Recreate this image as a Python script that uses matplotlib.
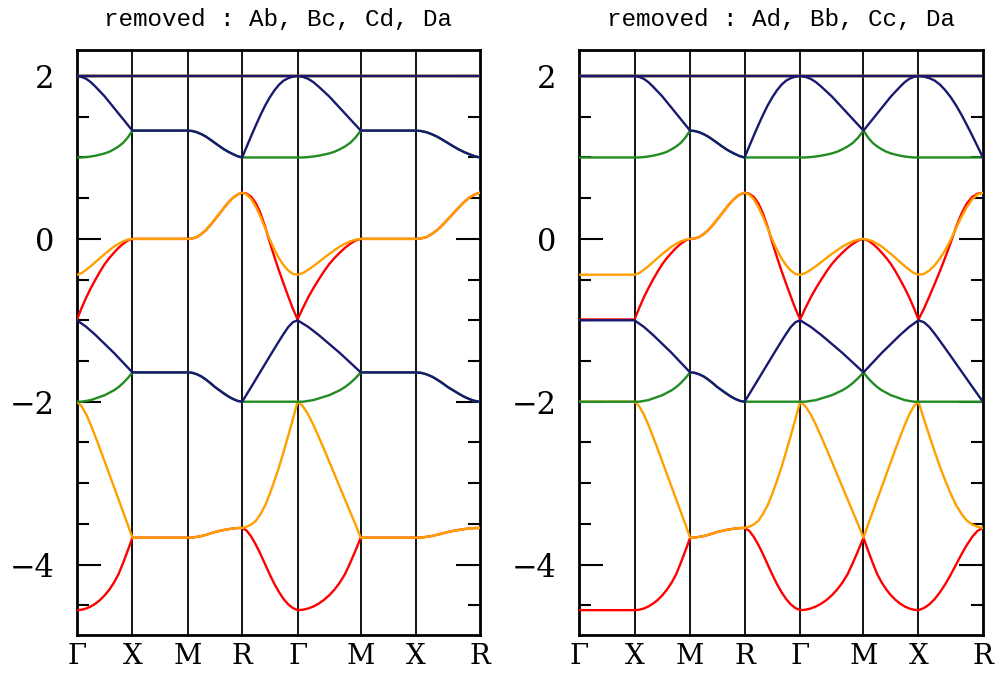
import numpy as np
import matplotlib.pyplot as plt

# k-path nodes (positions along the path) and their labels
nodes = [0, 1, 2.0, 2.98, 3.98, 5.12, 6.11, 7.27]
klabels = ['Γ', 'X', 'M', 'R', 'Γ', 'M', 'X', 'R']
titles = ['removed : Ab, Bc, Cd, Da', 'removed : Ad, Bb, Cc, Da']

# band colours, band i uses colours[i % 4]
colours = ['#ff0000', '#ffa000', '#228b22', '#191970']

# energies, 13 samples per segment, bands 1..8
# Gamma -> X type segment
gx = [
    [-4.56, -4.555, -4.54, -4.515, -4.48, -4.435, -4.378, -4.308, -4.223, -4.118, -3.978, -3.828, -3.67],
    [-2.00, -2.055, -2.155, -2.285, -2.43, -2.58, -2.735, -2.89, -3.045, -3.20, -3.355, -3.51, -3.67],
    [-2.00, -2.00, -1.99, -1.98, -1.96, -1.94, -1.92, -1.89, -1.86, -1.82, -1.77, -1.71, -1.64],
    [-1.00, -1.04, -1.08, -1.13, -1.18, -1.235, -1.29, -1.345, -1.40, -1.46, -1.52, -1.58, -1.64],
    [-0.99, -0.85, -0.72, -0.605, -0.50, -0.40, -0.31, -0.235, -0.17, -0.11, -0.06, -0.02, 0.00],
    [-0.44, -0.42, -0.38, -0.335, -0.285, -0.235, -0.185, -0.14, -0.095, -0.06, -0.03, -0.01, 0.00],
    [1.00, 1.00, 1.005, 1.012, 1.022, 1.035, 1.05, 1.07, 1.10, 1.135, 1.18, 1.245, 1.33],
    [2.00, 1.99, 1.966, 1.925, 1.87, 1.81, 1.75, 1.68, 1.61, 1.54, 1.47, 1.40, 1.33],
]
# M -> R type segment
mr = [
    [-3.67, -3.668, -3.66, -3.65, -3.635, -3.618, -3.60, -3.587, -3.575, -3.565, -3.557, -3.552, -3.55],
    [-3.67, -3.668, -3.66, -3.65, -3.635, -3.618, -3.60, -3.587, -3.575, -3.565, -3.557, -3.552, -3.55],
    [-1.64, -1.645, -1.663, -1.69, -1.728, -1.772, -1.82, -1.86, -1.90, -1.937, -1.967, -1.99, -2.00],
    [-1.64, -1.645, -1.663, -1.69, -1.728, -1.772, -1.82, -1.86, -1.90, -1.937, -1.967, -1.99, -2.00],
    [0.00, 0.005, 0.022, 0.06, 0.108, 0.17, 0.24, 0.31, 0.383, 0.45, 0.506, 0.545, 0.567],
    [0.00, 0.005, 0.022, 0.06, 0.108, 0.17, 0.24, 0.31, 0.383, 0.45, 0.506, 0.545, 0.567],
    [1.33, 1.325, 1.31, 1.286, 1.256, 1.218, 1.178, 1.138, 1.10, 1.068, 1.04, 1.015, 1.00],
    [1.33, 1.325, 1.31, 1.286, 1.256, 1.218, 1.178, 1.138, 1.10, 1.068, 1.04, 1.015, 1.00],
]
# R -> Gamma type segment
rg = [
    [-3.55, -3.585, -3.66, -3.76, -3.875, -4.00, -4.125, -4.24, -4.34, -4.425, -4.49, -4.535, -4.56],
    [-3.55, -3.535, -3.508, -3.46, -3.377, -3.27, -3.13, -2.97, -2.80, -2.61, -2.413, -2.21, -2.00],
    [-2.00, -2.00, -2.00, -2.00, -2.00, -2.00, -2.00, -2.00, -2.00, -2.00, -2.00, -2.00, -2.00],
    [-2.00, -1.908, -1.815, -1.721, -1.627, -1.533, -1.439, -1.346, -1.254, -1.164, -1.081, -1.023, -1.00],
    [0.567, 0.555, 0.515, 0.435, 0.31, 0.145, -0.045, -0.225, -0.395, -0.555, -0.71, -0.86, -0.99],
    [0.567, 0.545, 0.486, 0.39, 0.27, 0.13, -0.01, -0.135, -0.24, -0.325, -0.39, -0.43, -0.44],
    [1.00, 1.00, 1.00, 1.00, 1.00, 1.00, 1.00, 1.00, 1.00, 1.00, 1.00, 1.00, 1.00],
    [1.00, 1.135, 1.27, 1.40, 1.525, 1.64, 1.74, 1.825, 1.895, 1.945, 1.975, 1.993, 2.00],
]
# four flat bands on top
flat_top = [2.0, 2.0, 2.0, 2.0]


def left_path(b):
    xv = [gx[b][-1]] * len(gx[b])
    return [gx[b], xv, mr[b], rg[b], gx[b], xv, mr[b]]


def right_path(b):
    gv = [gx[b][0]] * len(gx[b])
    return [gv, gx[b], mr[b], rg[b], gx[b], gx[b][::-1], rg[b][::-1]]


def draw(ax, path, title):
    for b in range(8):
        segs = path(b)
        x = []
        y = []
        for k in range(7):
            x += list(np.linspace(nodes[k], nodes[k + 1], len(segs[k])))
            y += list(segs[k])
        ax.plot(x, y, color=colours[b % 4], lw=1.7, zorder=3 + b % 4,
                solid_joinstyle='round')
    for j, e in enumerate(flat_top):
        ax.plot([nodes[0], nodes[-1]], [e, e], color=colours[j % 4], lw=1.7,
                zorder=3 + j % 4)
    for n in nodes[1:-1]:
        ax.axvline(n, color='k', lw=1.3, zorder=1)
    ax.set_xlim(nodes[0], nodes[-1])
    ax.set_ylim(-4.865, 2.32)
    ax.set_xticks(nodes)
    ax.set_xticklabels(klabels, family='DejaVu Serif', fontsize=20)
    ax.set_yticks([-4, -2, 0, 2])
    ax.set_yticks(np.arange(-4.5, 2.01, 0.5), minor=True)
    ax.tick_params(axis='y', which='both', direction='in', left=True,
                   right=True, width=1.5, labelsize=22, pad=16)
    ax.tick_params(axis='y', which='major', length=17)
    ax.tick_params(axis='y', which='minor', length=8.5)
    ax.tick_params(axis='x', length=0, pad=6)
    for lab in ax.get_yticklabels():
        lab.set_family('DejaVu Serif')
    for s in ax.spines.values():
        s.set_linewidth(2.0)
    ax.set_title(title, family='Liberation Mono', fontsize=17.5, pad=17)


fig = plt.figure(figsize=(9.97, 6.73), dpi=100)
ax1 = fig.add_axes([0.0772, 0.0565, 0.4042, 0.8692])
ax2 = fig.add_axes([0.5807, 0.0565, 0.4052, 0.8692])
draw(ax1, left_path, titles[0])
draw(ax2, right_path, titles[1])

fig.savefig('out.png', dpi=100)
